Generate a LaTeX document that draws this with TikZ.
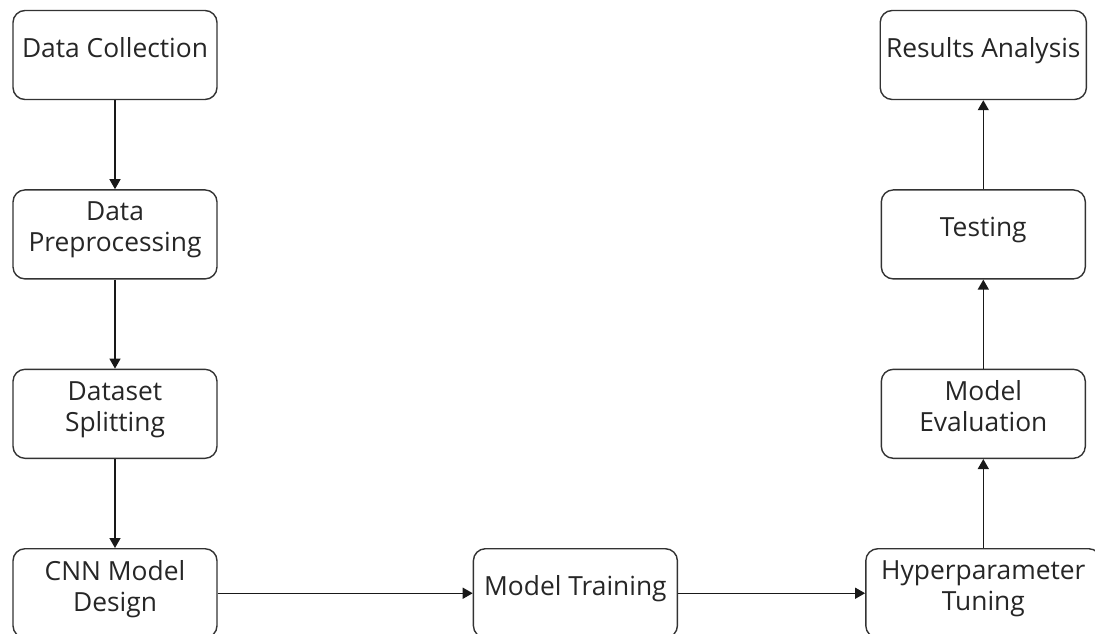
\documentclass[tikz,border=0pt]{standalone}
\usepackage{fontspec}
\setmainfont{Open Sans}
\usetikzlibrary{positioning, arrows.meta}

\begin{document}
\begin{tikzpicture}[
    stage/.style  = {draw=black!80, rounded corners=0.24cm, line width=0.8pt,
                     minimum width=4.08cm, minimum height=1.78cm, align=center,
                     text=black!85, font=\fontsize{15}{17.6}\selectfont,
                     execute at end node={\rule[-0.3cm]{0pt}{0pt}}},
    arrow/.style  = {-{Triangle[length=0.2cm, width=0.22cm]}, line width=0.8pt, black!90},
    node distance = 1.78cm and 5.1cm
]

\useasboundingbox (0,0) rectangle (21.9,-12.66);

% Linke Spalte
\node[stage] (collect) at (2.3,-1.1) {Data Collection};
\node[stage, below=of collect] (prep)   {Data\\Preprocessing};
\node[stage, below=of prep]    (split)  {Dataset\\Splitting};
\node[stage, below=of split]   (design) {CNN Model\\Design};

% Untere Zeile
\node[stage, right=of design]                         (train) {Model Training};
\node[stage, right=3.74cm of train, minimum width=4.7cm] (tune)  {Hyperparameter\\Tuning};

% Rechte Spalte
\node[stage, above=of tune]    (eval)    {Model\\Evaluation};
\node[stage, above=of eval]    (test)    {Testing};
\node[stage, above=of test]    (results) {Results Analysis};

% Pfeile
\draw[arrow] (collect) -- (prep);
\draw[arrow] (prep)    -- (split);
\draw[arrow] (split)   -- (design);
\draw[arrow] (design)  -- (train);
\draw[arrow] (train)   -- (tune);
\draw[arrow] (tune)    -- (eval);
\draw[arrow] (eval)    -- (test);
\draw[arrow] (test)    -- (results);

\end{tikzpicture}
\end{document}
